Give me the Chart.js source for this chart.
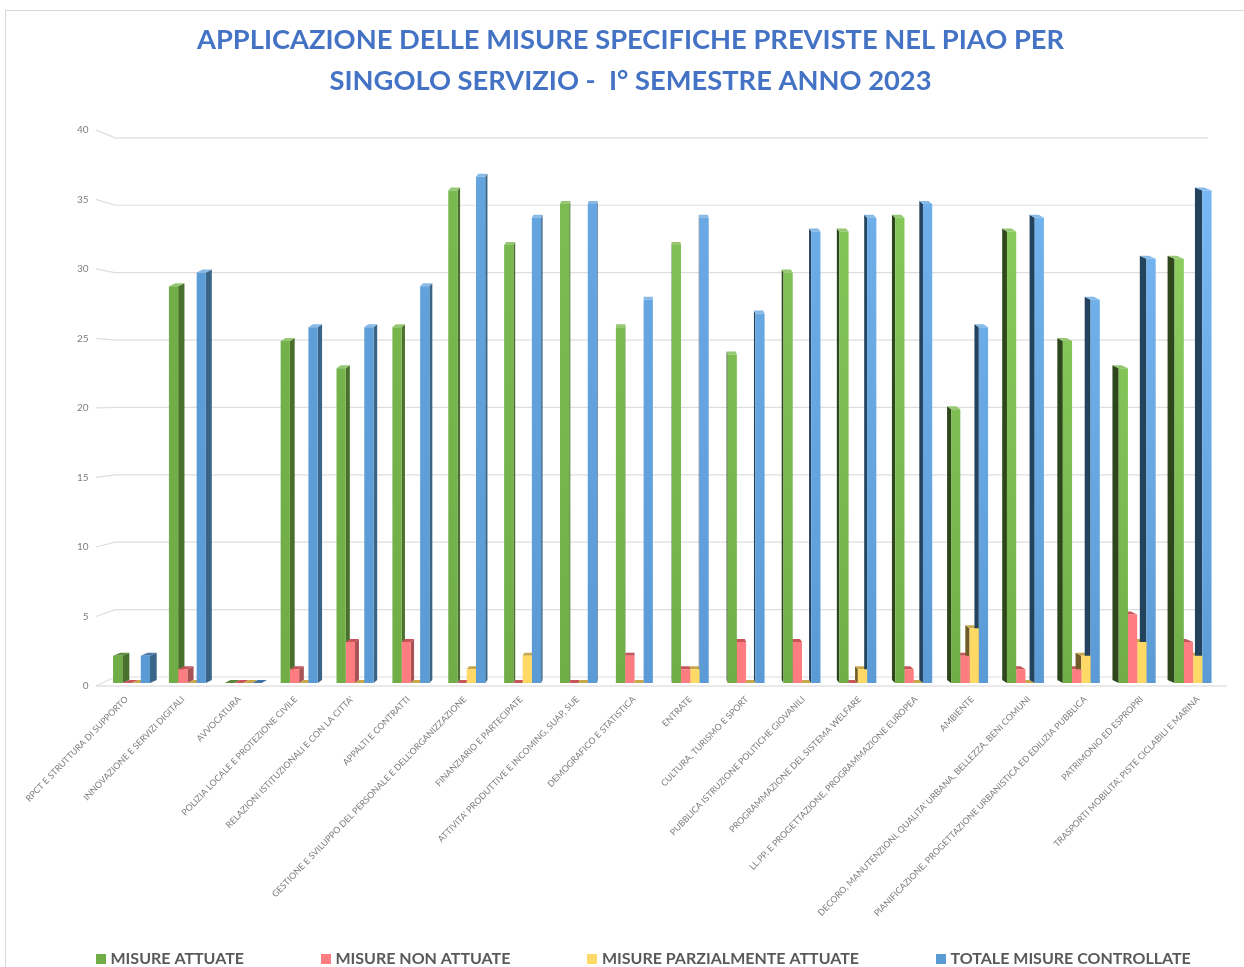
<!DOCTYPE html>
<html>
<head>
<meta charset="utf-8">
<title>Misure PIAO</title>
<script src="https://cdn.jsdelivr.net/npm/chart.js@4"></script>
<style>
html, body { margin: 0; padding: 0; background: #fff; overflow: hidden; }
#frame { position: absolute; left: 5px; top: 10px; right: 0; bottom: 0; border-left: 1px solid #d9d9d9; border-top: 1px solid #d9d9d9; }
canvas { position: absolute; left: 0; top: 0; }
</style>
</head>
<body>
<div id="frame"></div>
<canvas id="canvas" width="1244" height="967"></canvas>
<script>
var titleLines = ["APPLICAZIONE DELLE MISURE SPECIFICHE PREVISTE NEL PIAO PER", "SINGOLO SERVIZIO -  I° SEMESTRE ANNO 2023"];
var categories = ["RPCT E STRUTTURA DI SUPPORTO", "INNOVAZIONE E SERVIZI DIGITALI", "AVVOCATURA", "POLIZIA LOCALE E PROTEZIONE CIVILE",
    "RELAZIONI ISTITUZIONALI E CON LA CITTA'", "APPALTI E CONTRATTI", "GESTIONE E SVILUPPO DEL PERSONALE E DELL'ORGANIZZAZIONE",
    "FINANZIARIO E PARTECIPATE", "ATTIVITA' PRODUTTIVE E INCOMING, SUAP, SUE", "DEMOGRAFICO E STATISTICA", "ENTRATE",
    "CULTURA, TURISMO E SPORT", "PUBBLICA ISTRUZIONE POLITICHE GIOVANILI", "PROGRAMMAZIONE DEL SISTEMA WELFARE",
    "LL.PP. E PROGETTAZIONE, PROGRAMMAZIONE EUROPEA", "AMBIENTE", "DECORO, MANUTENZIONI, QUALITA' URBANA, BELLEZZA, BENI COMUNI",
    "PIANIFICAZIONE, PROGETTAZIONE URBANISTICA ED EDILIZIA PUBBLICA", "PATRIMONIO ED ESPROPRI", "TRASPORTI MOBILITA', PISTE CICLABILI E MARINA"];
var attuate =     [2, 29, 0, 25, 23, 26, 36, 32, 35, 26, 32, 24, 30, 33, 34, 20, 33, 25, 23, 31];
var nonAttuate =  [0, 1, 0, 1, 3, 3, 0, 0, 0, 2, 1, 3, 3, 0, 1, 2, 1, 1, 5, 3];
var parziali =    [0, 0, 0, 0, 0, 0, 1, 2, 0, 0, 1, 0, 0, 1, 0, 4, 0, 2, 3, 2];
var totale =      [2, 30, 0, 26, 26, 29, 37, 34, 35, 28, 34, 27, 33, 34, 35, 26, 34, 28, 31, 36];
var yTicks = [0, 5, 10, 15, 20, 25, 30, 35, 40];

var FONT = "Lato, 'Open Sans', sans-serif";
var DEPTH_UP = 3;   // how far the back edge of a bar rises
var VANISH_X = 650; // x where the bars show no side face

// front colour, lit colour (top of the right hand bars), top face low and high, side face left, side face right
var looks = [
    {front: [112, 173, 71],  lit: [146, 214, 100], top: [86, 135, 54],   topHi: [150, 200, 115], sideL: [74, 112, 46],  sideR: [46, 70, 28]},
    {front: [255, 124, 128], lit: [255, 124, 128], top: [198, 86, 90],   topHi: [198, 86, 90],   sideL: [168, 82, 85],  sideR: [168, 82, 85]},
    {front: [255, 217, 102], lit: [255, 217, 102], top: [200, 168, 75],  topHi: [200, 168, 75],  sideL: [168, 140, 60], sideR: [112, 92, 38]},
    {front: [91, 155, 213],  lit: [122, 186, 246], top: [64, 116, 165],  topHi: [135, 185, 230], sideL: [58, 100, 136], sideR: [35, 66, 94]}
];

function mix(a, b, t) {
    return 'rgb(' + a.map(function(v, k) { return Math.round(v + (b[k] - v) * t); }).join(',') + ')';
}
function frontColor(look) {
    return function(c) {
        var g = c.chart.ctx.createLinearGradient(0, 133, 0, 683);
        g.addColorStop(0, mix(look.front, look.lit, c.dataIndex / 19));
        g.addColorStop(0.75, mix(look.front, look.lit, c.dataIndex / 60));
        g.addColorStop(1, mix(look.front, look.front, 0));
        return g;
    };
}
function swatch(look) {
    var s = document.createElement('canvas');
    s.width = 10; s.height = 10;
    var x = s.getContext('2d');
    x.fillStyle = mix(look.front, look.front, 0);
    x.fillRect(0, 0, 10, 10);
    return s;
}
function poly(ctx, pts, color) {
    ctx.fillStyle = color;
    ctx.beginPath();
    ctx.moveTo(pts[0], pts[1]);
    for (var i = 2; i < pts.length; i += 2) ctx.lineTo(pts[i], pts[i + 1]);
    ctx.closePath();
    ctx.fill();
}

// gridlines with the little slanted stub on the left wall, and the floor line
var wallPlugin = {
    id: 'wall',
    beforeDatasetsDraw: function(chart) {
        var ctx = chart.ctx, front = chart.scales.y, back = chart.scales.yBack;
        ctx.save();
        ctx.strokeStyle = '#dedede';
        ctx.lineWidth = 1.2;
        yTicks.forEach(function(t) {
            ctx.beginPath();
            ctx.moveTo(96, front.getPixelForValue(t));
            ctx.lineTo(115, back.getPixelForValue(t));
            ctx.lineTo(1208, back.getPixelForValue(t));
            ctx.stroke();
        });
        ctx.strokeStyle = '#d4d4d4';
        ctx.beginPath();
        ctx.moveTo(96, front.getPixelForValue(0));
        ctx.lineTo(1227, front.getPixelForValue(0));
        ctx.stroke();
        ctx.restore();
    }
};

// side and top faces, worked out from the bar elements the library laid out
var facesPlugin = {
    id: 'faces',
    beforeDatasetsDraw: function(chart) {
        var ctx = chart.ctx;
        ctx.save();
        chart.data.datasets.forEach(function(ds, d) {
            var look = looks[d];
            chart.getDatasetMeta(d).data.forEach(function(bar, i) {
                var xl = bar.x - bar.width / 2, xr = bar.x + bar.width / 2;
                var dl = (VANISH_X - xl) / 75, dr = (VANISH_X - xr) / 75;
                if (bar.x < VANISH_X) {
                    poly(ctx, [xr, bar.y, xr + dr, bar.y - DEPTH_UP, xr + dr, bar.base - DEPTH_UP, xr, bar.base], mix(look.sideL, look.sideL, 0));
                } else {
                    poly(ctx, [xl, bar.y, xl + dl, bar.y - DEPTH_UP, xl + dl, bar.base - DEPTH_UP, xl, bar.base], mix(look.sideR, look.sideR, 0));
                }
                poly(ctx, [xl, bar.y, xr, bar.y, xr + dr, bar.y - DEPTH_UP, xl + dl, bar.y - DEPTH_UP],
                    mix(look.top, look.topHi, Math.min(1, (bar.base - bar.y) / 250)));
            });
        });
        ctx.restore();
    }
};

// the legend is wider than the box the layout gives it, so it is refitted on one row
// the label axis is stretched: the labels are spaced a bit wider than the bars and get clipped to its box
var layoutPlugin = {
    id: 'legendRow',
    afterLayout: function(chart) {
        var lg = chart.legend, pad = lg.options.labels.padding, lab = chart.scales.x;
        lg.maxWidth = 1400;
        lg.fit();
        lg.left = 99.5 - pad;
        lg.right = lg.left + 1400;
        lg.top = 951 - pad;
        lg.bottom = lg.top + lg.height;
        lg.adjustHitBoxes();
        lab.left = 103.3;
        lab.right = 1231.3;
        lab.width = lab.right - lab.left;
        lab.bottom = 945;
        lab.configure();
    }
};

var names = ["MISURE ATTUATE", "MISURE NON ATTUATE", "MISURE PARZIALMENTE ATTUATE", "TOTALE MISURE CONTROLLATE"];
var values = [attuate, nonAttuate, parziali, totale];

var config = {
    type: 'bar',
    data: {
        labels: categories,
        datasets: names.map(function(n, k) {
            return {label: n, data: values[k], xAxisID: 'xBars', yAxisID: 'yBars', backgroundColor: frontColor(looks[k]), borderWidth: 0,
                categoryPercentage: 0.662, barPercentage: 1};
        })
    },
    options: {
        responsive: false,
        animation: false,
        layout: {padding: {left: 40, right: 23, top: 0, bottom: 0}},
        plugins: {
            tooltip: {enabled: false},
            title: {
                display: true, text: titleLines, color: '#4472C4',
                font: {family: FONT, size: 27.3, weight: 'bold', lineHeight: 1.5},
                padding: {top: 20, bottom: 28}
            },
            legend: {
                position: 'bottom', align: 'start',
                labels: {
                    color: '#595959', padding: 80.5, usePointStyle: true, pointStyleWidth: 3,
                    font: {family: FONT, size: 16, weight: 'bold'},
                    generateLabels: function(chart) {
                        return Chart.defaults.plugins.legend.labels.generateLabels(chart).map(function(it, k) {
                            it.pointStyle = swatch(looks[k]);
                            return it;
                        });
                    }
                }
            }
        },
        scales: {
            x: {
                type: 'category', position: 'bottom', offset: true,
                grid: {display: false}, border: {display: false},
                ticks: {autoSkip: false, minRotation: 46, maxRotation: 46, color: '#7f7f7f', padding: 0, labelOffset: -5,
                    font: {family: FONT, size: 8.9}},
                afterFit: function(s) { s.height = 78; }
            },
            xBars: {type: 'category', position: 'bottom', display: false, offset: true},
            y: {
                min: 0, max: 40,
                grid: {display: false, drawTicks: false}, border: {display: false},
                ticks: {stepSize: 5, color: '#7f7f7f', padding: 15, font: {family: FONT, size: 10}},
                afterFit: function(s) { s.width = 63.6; }
            },
            yBars: {display: false, min: -0.219, max: 40.42},
            yBack: {display: false, min: -0.668, max: 40.59}
        }
    },
    plugins: [wallPlugin, facesPlugin, layoutPlugin]
};

window.onload = function() {
    window.myChart = new Chart(document.getElementById("canvas"), config);
};
</script>
</body>
</html>
